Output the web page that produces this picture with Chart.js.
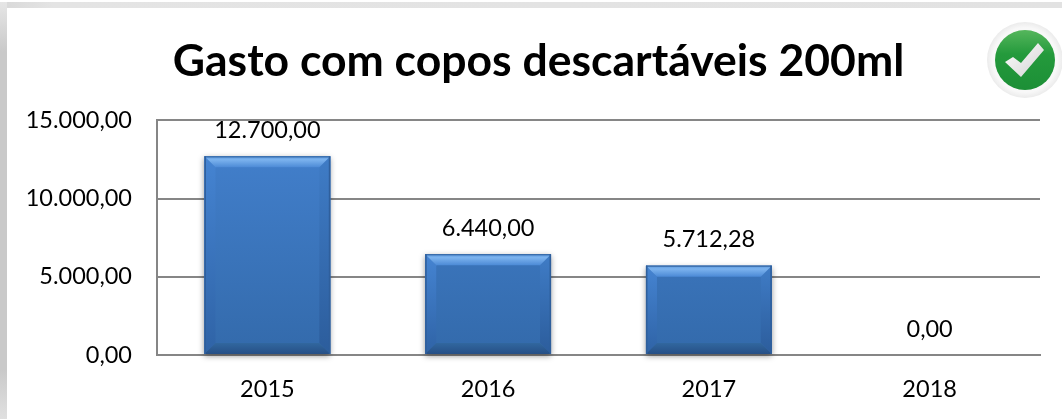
<!DOCTYPE html>
<html><head><meta charset="utf-8">
<script src="https://cdn.jsdelivr.net/npm/chart.js@4"></script>
<style>
html,body{margin:0;padding:0;background:#fff;width:1062px;height:419px;overflow:hidden}
#top{position:absolute;left:0;top:2px;width:1062px;height:6px;background:linear-gradient(90deg,#d8d8d8,#e4e4e4 5%,#e2e2e2)}
#left{position:absolute;left:0;top:2px;width:7px;height:417px;background:linear-gradient(180deg,#e6e6e6,#c9c9c9 12%,#c9c9c9 88%,#e0e0e0)}
#wrap{position:absolute;left:0;top:0;width:1062px;height:419px}
#ok{position:absolute;left:982px;top:17px;width:86px;height:86px}
</style></head><body>
<div id="wrap"><canvas id="c" width="1062" height="419"></canvas></div>
<div id="top"></div><div id="left"></div>
<svg id="ok" viewBox="0 0 86 86"><defs>
<linearGradient id="g" x1="0" y1="0" x2="0" y2="1"><stop offset="0" stop-color="#55b65c"/><stop offset=".4" stop-color="#249a3c"/><stop offset="1" stop-color="#1c8f36"/></linearGradient>
<linearGradient id="w" x1="0" y1="0" x2="1" y2="1"><stop offset="0" stop-color="#fff"/><stop offset="1" stop-color="#d2d2d2"/></linearGradient>
<radialGradient id="r"><stop offset=".85" stop-color="#f8f8f8"/><stop offset="1" stop-color="#ebebeb"/></radialGradient>
</defs>
<circle cx="43" cy="43" r="38" fill="url(#r)"/><circle cx="43" cy="43" r="30" fill="url(#g)"/>
<path d="M23 45 31 40 39 46 56 26 62 33 39 60Z" fill="url(#w)"/></svg>
<script>
const categories = ['2015','2016','2017','2018'];
const values = [12700, 6440, 5712.28, 0];
const tickValues = [0, 5000, 10000, 15000];
const titleText = 'Gasto com copos descartáveis 200ml';
const fmt = v => v.toLocaleString('pt-BR',{minimumFractionDigits:2,maximumFractionDigits:2});
const poly = (ctx,pts,fill) => {ctx.beginPath();pts.forEach((p,i)=>i?ctx.lineTo(p[0],p[1]):ctx.moveTo(p[0],p[1]));ctx.closePath();ctx.fillStyle=fill;ctx.fill();};
const bevel = {
  id:'bevel',
  afterLayout(chart){
    // the title is centred over a span that starts right of the canvas edge
    if(chart.titleBlock){chart.titleBlock.left=37;chart.titleBlock.right=chart.chartArea.right;}
  },
  beforeDatasetDraw(chart){
    const ctx=chart.ctx;
    chart.getDatasetMeta(0).data.forEach(b=>{
      const h=b.base-b.y; if(h<=0) return;
      ctx.save();ctx.shadowColor='rgba(0,0,0,.4)';ctx.shadowBlur=6;ctx.shadowOffsetY=2;
      ctx.fillStyle='#3a70b4';ctx.fillRect(b.x-b.width/2,b.y,b.width,h);ctx.restore();
    });
  },
  afterDatasetDraw(chart){
    const ctx=chart.ctx, s=11;
    chart.getDatasetMeta(0).data.forEach(b=>{
      const h=b.base-b.y; if(h<=0) return;
      const l=b.x-b.width/2,r=b.x+b.width/2,t=b.y,u=b.base;
      const gl=ctx.createLinearGradient(0,t,0,u);gl.addColorStop(0,'#4584d2');gl.addColorStop(1,'#2f63a6');
      const gr=ctx.createLinearGradient(0,t,0,u);gr.addColorStop(0,'#3f7cc6');gr.addColorStop(1,'#2c5d9c');
      const gt=ctx.createLinearGradient(0,t,0,t+s);gt.addColorStop(0,'#5a97dc');gt.addColorStop(.3,'#7cb3ee');gt.addColorStop(1,'#4c8ad6');
      const gb=ctx.createLinearGradient(0,u-s,0,u);gb.addColorStop(0,'#31679f');gb.addColorStop(1,'#264f86');
      poly(ctx,[[l,t],[l+s,t+s],[l+s,u-s],[l,u]],gl);
      poly(ctx,[[r,t],[r-s,t+s],[r-s,u-s],[r,u]],gr);
      poly(ctx,[[l,t],[r,t],[r-s,t+s],[l+s,t+s]],gt);
      poly(ctx,[[l,u],[l+s,u-s],[r-s,u-s],[r,u]],gb);
      ctx.fillStyle='#2f5f9c';
      ctx.fillRect(l,t,b.width,1);ctx.fillRect(l,t,1.5,h);ctx.fillRect(r-1.5,t,1.5,h);
    });
  },
  afterDatasetsDraw(chart){
    const ctx=chart.ctx;
    ctx.save();ctx.font='23.5px Lato';ctx.fillStyle='#000';ctx.textAlign='center';ctx.textBaseline='middle';
    chart.getDatasetMeta(0).data.forEach((b,i)=>ctx.fillText(fmt(values[i]),b.x,b.y-26));
    ctx.restore();
  }
};
new Chart(document.getElementById('c'),{
  type:'bar',
  plugins:[bevel],
  data:{labels:categories,datasets:[{data:values,barPercentage:.57,categoryPercentage:1,
    backgroundColor(c){
      const a=c.chart.chartArea; if(!a) return '#3a70b4';
      const el=c.element, top=el&&el.y!==undefined?el.y:a.top, base=el&&el.base!==undefined?el.base:a.bottom;
      const g=c.chart.ctx.createLinearGradient(0,top,0,base);
      g.addColorStop(0,'#4482d0');g.addColorStop(1,'#336aab');return g;
    }}]},
  options:{responsive:false,animation:false,
    layout:{padding:{left:0,right:22,top:0,bottom:0}},
    plugins:{legend:{display:false},tooltip:{enabled:false},
      title:{display:true,text:titleText,color:'#000',font:{family:'Lato',size:44.5,weight:'bold'},padding:{top:35,bottom:32}}},
    scales:{
      x:{afterFit(s){s.height=64},grid:{display:false},border:{color:'#868686',width:2},
        ticks:{color:'#000',font:{family:'Lato',size:23.5},padding:12,maxRotation:0}},
      y:{min:0,max:15000,afterFit(s){s.width=157},
        afterBuildTicks(s){s.ticks=tickValues.map(v=>({value:v}))},
        grid:{color:'#868686',lineWidth:2,drawTicks:false},border:{color:'#868686',width:2},
        ticks:{color:'#000',font:{family:'Lato',size:23.5},padding:25,callback:v=>fmt(v)}}
    }}
});
</script></body></html>
